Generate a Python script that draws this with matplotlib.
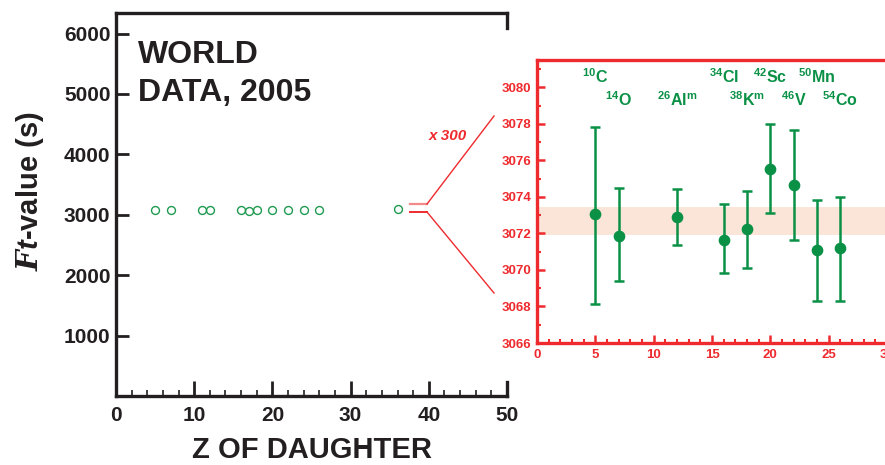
import matplotlib
matplotlib.use("Agg")
import matplotlib.pyplot as plt
from matplotlib.ticker import MultipleLocator, FixedLocator

plt.rcParams["font.family"] = ["Liberation Sans", "DejaVu Sans"]
plt.rcParams["font.weight"] = "bold"
plt.rcParams["mathtext.fontset"] = "custom"
plt.rcParams["mathtext.rm"] = "Liberation Sans:bold"
plt.rcParams["mathtext.bf"] = "Liberation Sans:bold"
plt.rcParams["mathtext.it"] = "Liberation Sans:bold:italic"
plt.rcParams["mathtext.cal"] = "DejaVu Serif:bold:italic"

GREEN = "#0a9146"
RED = "#ee2a2e"
DARK = "#231f20"

# all superallowed transitions, Z of daughter vs Ft (s)
z_all = [5, 7, 11, 12, 16, 17, 18, 20, 22, 24, 26, 36]
ft_all = [3073, 3072, 3078, 3073, 3072, 3070, 3072, 3076, 3075, 3071, 3071, 3100]

# the nine best-measured cases shown in the enlarged view
z_best = [5, 7, 12, 16, 18, 20, 22, 24, 26]
ft_best = [3073.04, 3071.86, 3072.90, 3071.64, 3072.23, 3075.55, 3074.68, 3071.10, 3071.23]
ft_low = [3068.13, 3069.41, 3071.37, 3069.84, 3070.12, 3073.12, 3071.64, 3068.32, 3068.32]
ft_high = [3077.84, 3074.48, 3074.46, 3073.63, 3074.32, 3078.00, 3077.65, 3073.83, 3073.99]
nuclides = [r"$\mathbf{{}^{10}C}$", r"$\mathbf{{}^{14}O}$", r"$\mathbf{{}^{26}Al^{m}}$",
            r"$\mathbf{{}^{34}Cl}$", r"$\mathbf{{}^{38}K^{m}}$", r"$\mathbf{{}^{42}Sc}$",
            r"$\mathbf{{}^{46}V}$", r"$\mathbf{{}^{50}Mn}$", r"$\mathbf{{}^{54}Co}$"]
label_row = [0, 1, 1, 0, 1, 0, 1, 0, 1]

# weighted-average band
avg_lo, avg_hi = 3071.9, 3073.45

W, H = 885, 465
fig = plt.figure(figsize=(W / 100, H / 100), dpi=100)

# ---- main panel ----
ax = fig.add_axes([116 / W, 1 - 396 / H, (507 - 116) / W, (396 - 13) / H])
ax.plot(z_all, ft_all, "o", mfc="none", mec="#1f9a50", mew=1.0, ms=5.7, clip_on=False)
ax.set_xlim(0, 50)
ax.set_ylim(0, 6340)
ax.spines["right"].set_visible(False)
for s in ("left", "bottom", "top"):
    ax.spines[s].set_linewidth(2.4)
    ax.spines[s].set_color(DARK)
ax.plot([50, 50], [6340, 6090], color=DARK, lw=2.4, clip_on=False, solid_capstyle="projecting")
ax.plot([50, 50], [0, 240], color=DARK, lw=2.4, clip_on=False, solid_capstyle="projecting")
ax.xaxis.set_major_locator(MultipleLocator(10))
ax.xaxis.set_minor_locator(MultipleLocator(2))
ax.yaxis.set_major_locator(FixedLocator([1000, 2000, 3000, 4000, 5000, 6000]))
ax.tick_params(axis="x", which="major", direction="in", length=11, width=2, color=DARK,
               labelsize=15, pad=7, labelcolor=DARK)
ax.tick_params(axis="x", which="minor", direction="in", length=4, width=1.2, color=DARK)
ax.tick_params(axis="y", which="major", direction="in", length=9, width=2, color=DARK,
               labelsize=15, pad=4, labelcolor=DARK)
ax.set_xlabel("Z OF DAUGHTER", fontsize=21, fontweight="bold", color=DARK, va="center")
ax.xaxis.set_label_coords(0.501, -0.14)
ax.set_ylabel(r"$\mathcal{F}\mathit{t}$-value (s)", fontsize=21, fontweight="bold",
              color=DARK, va="center")
ax.yaxis.set_label_coords(-0.22, 0.535)
ax.text(138 / W, 1 - 40 / H, "WORLD\nDATA, 2005", transform=fig.transFigure, fontsize=23,
        color=DARK, ha="left", va="top", linespacing=1.35)

# zoom connector
ax.plot([410 / W, 427 / W], [1 - 204 / H] * 2, transform=fig.transFigure, color="#f28a8a", lw=1.6)
ax.plot([410 / W, 427 / W], [1 - 212 / H] * 2, transform=fig.transFigure, color=RED, lw=1.4)
ax.plot([427 / W, 494 / W], [1 - 204 / H, 1 - 116 / H], transform=fig.transFigure, color=RED, lw=1.0)
ax.plot([427 / W, 494 / W], [1 - 212 / H, 1 - 293 / H], transform=fig.transFigure, color=RED, lw=1.0)
ax.text(448 / W, 1 - 136 / H, "x 300", transform=fig.transFigure, fontsize=11, color=RED,
        style="italic", ha="center", va="center")

# ---- enlarged view ----
ins = fig.add_axes([537 / W, 1 - 343 / H, (887 - 537) / W, (343 - 60) / H])
ins.axhspan(avg_lo, avg_hi, color="#fbe4d8", lw=0, zorder=0)
err = [[f - l for f, l in zip(ft_best, ft_low)], [h - f for f, h in zip(ft_best, ft_high)]]
ins.errorbar(z_best, ft_best, yerr=err, fmt="o", color=GREEN, ms=7.4, elinewidth=1.8,
             capsize=3.8, capthick=1.8, zorder=3)
ins.set_xlim(0, 30)
ins.set_ylim(3066, 3081.5)
for s in ins.spines.values():
    s.set_color(RED)
    s.set_linewidth(2.4)
ins.xaxis.set_major_locator(MultipleLocator(5))
ins.xaxis.set_minor_locator(MultipleLocator(1))
ins.yaxis.set_major_locator(MultipleLocator(2))
ins.yaxis.set_minor_locator(MultipleLocator(1))
ins.tick_params(which="major", direction="in", length=5.5, width=1.8, color=RED,
                labelsize=9.5, labelcolor=RED, pad=4)
ins.tick_params(which="minor", direction="in", length=3, width=1.5, color=RED)
ins.tick_params(axis="x", which="both", top=False)
ins.tick_params(axis="y", which="both", right=False)
for zb, name, row in zip(z_best, nuclides, label_row):
    ins.annotate(name, (zb, 3081.5), xycoords="data", textcoords="offset points",
                 xytext=(0, -12 - 16.5 * row), ha="center", va="center", fontsize=11.5, color=GREEN)

fig.savefig("out.png", dpi=100)
